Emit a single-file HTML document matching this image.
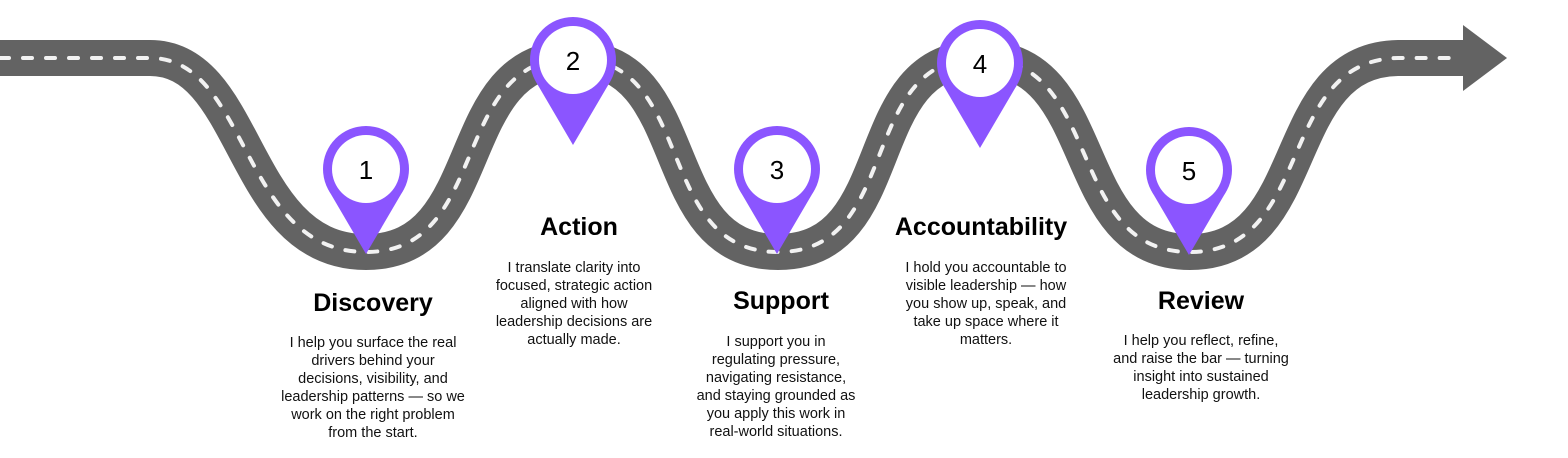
<!DOCTYPE html>
<html><head><meta charset="utf-8"><style>
html,body{margin:0;padding:0;background:#fff;width:1568px;height:458px;overflow:hidden}
svg{display:block}
.t{font-family:"Liberation Sans",sans-serif;font-weight:bold;font-size:25px;fill:#000;text-anchor:middle}
.b{font-family:"Liberation Sans",sans-serif;font-size:14.5px;fill:#111;text-anchor:middle}
.n{font-family:"Liberation Sans",sans-serif;font-size:26px;fill:#000;text-anchor:middle}
</style></head><body>
<svg width="1568" height="458" viewBox="0 0 1568 458" xmlns="http://www.w3.org/2000/svg">
<defs>
<g id="pin">
<circle cx="0" cy="0" r="43" fill="#8b55ff"/>
<polygon points="-37.2,21.5 37.2,21.5 0,85" fill="#8b55ff"/>
<circle cx="0" cy="0" r="34" fill="#fff"/>
</g>
<path id="rp" d="M0,58 L150,58 C250,58 240,252 366,252 C492,252 448,58 573,58 C698,58 652,252 778,252 C904,252 855,58 980,58 C1105,58 1064,252 1190,252 C1316,252 1275,58 1400,58 L1465,58"/>
</defs>
<use href="#rp" fill="none" stroke="#636363" stroke-width="36"/>
<polygon points="1463,25 1507,58 1463,91" fill="#636363"/>
<path d="M0,58 L150,58 C250,58 240,252 366,252 C492,252 448,58 573,58 C698,58 652,252 778,252 C904,252 855,58 980,58 C1105,58 1064,252 1190,252 C1316,252 1275,58 1400,58 L1455,58" fill="none" stroke="#f2f2f2" stroke-width="4" stroke-dasharray="9 14" stroke-linecap="round"/>

<use href="#pin" x="366" y="169"/>
<use href="#pin" x="573" y="60"/>
<use href="#pin" x="777" y="169"/>
<use href="#pin" x="980" y="63"/>
<use href="#pin" x="1189" y="170"/>
<text class="n" x="366" y="179">1</text>
<text class="n" x="573" y="70">2</text>
<text class="n" x="777" y="179">3</text>
<text class="n" x="980" y="73">4</text>
<text class="n" x="1189" y="180">5</text>

<text class="t" x="373" y="311">Discovery</text>
<text class="b" x="373" y="347">I help you surface the real</text>
<text class="b" x="373" y="365">drivers behind your</text>
<text class="b" x="373" y="383">decisions, visibility, and</text>
<text class="b" x="373" y="401">leadership patterns — so we</text>
<text class="b" x="373" y="419">work on the right problem</text>
<text class="b" x="373" y="437">from the start.</text>

<text class="t" x="579" y="235">Action</text>
<text class="b" x="574" y="272">I translate clarity into</text>
<text class="b" x="574" y="290">focused, strategic action</text>
<text class="b" x="574" y="308">aligned with how</text>
<text class="b" x="574" y="326">leadership decisions are</text>
<text class="b" x="574" y="344">actually made.</text>

<text class="t" x="781" y="309">Support</text>
<text class="b" x="776" y="346">I support you in</text>
<text class="b" x="776" y="364">regulating pressure,</text>
<text class="b" x="776" y="382">navigating resistance,</text>
<text class="b" x="776" y="400">and staying grounded as</text>
<text class="b" x="776" y="418">you apply this work in</text>
<text class="b" x="776" y="436">real-world situations.</text>

<text class="t" x="981" y="235">Accountability</text>
<text class="b" x="986" y="272">I hold you accountable to</text>
<text class="b" x="986" y="290">visible leadership — how</text>
<text class="b" x="986" y="308">you show up, speak, and</text>
<text class="b" x="986" y="326">take up space where it</text>
<text class="b" x="986" y="344">matters.</text>

<text class="t" x="1201" y="309">Review</text>
<text class="b" x="1201" y="345">I help you reflect, refine,</text>
<text class="b" x="1201" y="363">and raise the bar — turning</text>
<text class="b" x="1201" y="381">insight into sustained</text>
<text class="b" x="1201" y="399">leadership growth.</text>
</svg>
</body></html>
